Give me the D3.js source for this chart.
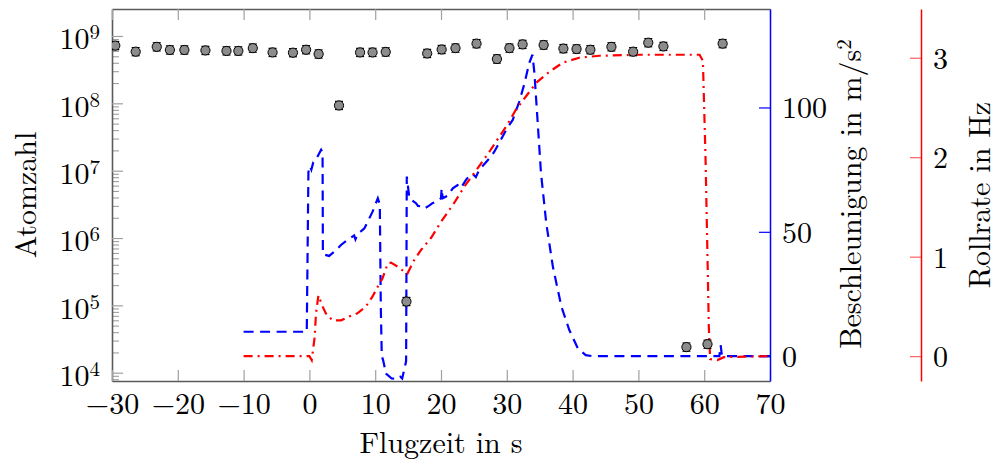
<!DOCTYPE html>
<html>
<head>
<meta charset="utf-8">
<script src="https://cdn.jsdelivr.net/npm/d3@7"></script>
<style>
  html, body { margin: 0; padding: 0; background: #fff; }
  svg { display: block; }
</style>
</head>
<body>
<svg id="chart" width="998" height="463"></svg>
<script>
// ---------------- DATA ----------------
const xTicks = [-30, -20, -10, 0, 10, 20, 30, 40, 50, 60, 70];
const atomTicks = [1e4, 1e5, 1e6, 1e7, 1e8, 1e9];
const accTicks = [0, 50, 100];
const rollTicks = [0, 1, 2, 3];

// Atom number measurements (grey markers)
const atomTime  = [-29.5, -26.4, -23.2, -21.2, -19.0, -15.8, -12.6, -10.8, -8.6, -5.6, -2.5, -0.5, 1.4,
                   4.5, 7.7, 9.6, 11.6, 14.75, 17.9, 20.1, 22.2, 25.4, 28.5, 30.4, 32.4, 35.6, 38.6,
                   40.6, 42.7, 45.9, 49.2, 51.5, 53.8, 57.3, 60.5, 62.8];
const atomCount = [7.2e8, 5.85e8, 6.9e8, 6.2e8, 6.2e8, 6.1e8, 6.0e8, 6.0e8, 6.6e8, 5.7e8, 5.65e8, 6.25e8, 5.4e8,
                   9.3e7, 5.7e8, 5.7e8, 5.8e8, 1.14e5, 5.5e8, 6.3e8, 6.6e8, 7.7e8, 4.55e8, 6.6e8, 7.5e8, 7.35e8, 6.5e8,
                   6.4e8, 6.25e8, 6.9e8, 5.85e8, 7.95e8, 7.0e8, 2.4e4, 2.65e4, 7.7e8];
const atomRelError = 0.15;

// Acceleration (blue dashed, right axis)
const accTime  = [-10, -0.4, -0.15, 0.1, 0.3, 0.6, 1.0, 1.78, 2.0, 2.05, 3.0, 4.0, 4.8, 5.8, 6.8, 7.0, 7.3,
                  8.36, 9.6, 10.4, 10.7, 10.85, 11.0, 11.2, 11.65, 12.5, 13.4, 13.8, 14.1, 14.4, 14.7, 14.8,
                  15.2, 16.2, 16.5, 17.2, 17.5, 18.2, 18.7, 19.5, 20.0, 20.1, 20.25, 21.0, 21.8, 22.5, 23.0,
                  23.8, 24.3, 24.8, 25.3, 25.8, 26.9, 27.5, 28.1, 29.1, 29.9, 30.9, 31.9, 32.7, 33.4, 33.9,
                  34.2, 34.7, 35.2, 36.0, 37.0, 38.3, 39.5, 40.8, 42.0, 43.0, 62.3, 62.5, 62.7, 70];
const accValue = [9.8, 9.8, 74, 76.5, 75, 78, 79, 83, 82, 41, 40.3, 42.5, 44.7, 46.8, 48.5, 47, 49,
                  51.4, 58.1, 63.5, 61, 20, 0, -1.6, -7, -9, -9.2, -8.3, -9.0, -5.6, -2, 72.2,
                  63.5, 61.5, 60.4, 60.1, 59.4, 60.5, 61.5, 62.5, 63.5, 67.5, 63.5, 64.5, 67.5, 68.8, 67.5,
                  70.9, 72.5, 73.3, 72, 74.9, 78.2, 80, 82.2, 87, 91, 95, 102.4, 109.8, 117.8, 121.2,
                  113.8, 93.7, 73.5, 53.4, 36, 19.9, 10.5, 3.1, 0.4, 0, 0, 4.4, 0, 0];

// Roll rate (red dash-dotted, outer right axis)
const rollTime  = [-10, 0, 0.35, 0.8, 1.0, 1.37, 2.0, 2.5, 3.5, 4.8, 6.1, 7.3, 8.6, 9.6, 10.4, 11.1, 11.9,
                   12.4, 13.4, 14.4, 14.9, 15.96, 17.0, 18.5, 20.0, 22.0, 23.6, 25.8, 27.4, 28.9, 30.1, 31.4,
                   32.9, 34.5, 36.5, 38.5, 41.0, 44.1, 50, 59.3, 59.8, 60.2, 60.5, 60.7, 60.9, 62, 63, 70];
const rollValue = [0, 0, -0.04, 0.19, 0.43, 0.61, 0.50, 0.43, 0.36, 0.36, 0.40, 0.43, 0.50, 0.60, 0.70, 0.78, 0.93,
                   0.94, 0.90, 0.85, 0.83, 0.97, 1.07, 1.19, 1.35, 1.54, 1.71, 1.91, 2.06, 2.21, 2.33, 2.48,
                   2.61, 2.75, 2.86, 2.95, 3.00, 3.02, 3.03, 3.03, 2.97, 2.0, 1.0, 0.3, -0.03, -0.04, -0.01, 0];

// ---------------- CHART ----------------
const FONT = "Latin Modern Roman, CMU Serif, Liberation Serif, serif";
const FS = 30;
const svg = d3.select("#chart").attr("font-family", FONT);
const L = 112, R = 770, T = 9, B = 381;
const RED_AXIS_X = 921;

const x  = d3.scaleLinear().domain([-30, 70]).range([L, R]);
const yL = d3.scaleLog().domain([Math.pow(10, 3.877), Math.pow(10, 9.4006)]).range([B, T]);
const yB = d3.scaleLinear().domain([-10, 139.6]).range([B, T]);
const yR = d3.scaleLinear().domain([-0.25, 3.49]).range([B, T]);

svg.append("defs").append("clipPath").attr("id", "plotclip")
  .append("rect").attr("x", L).attr("y", T).attr("width", R - L).attr("height", B - T);

const axisGrey = "#5a5a5a", tickGrey = "#a0a0a0";

function styleAxis(g, domainColor, tickColor, domainWidth) {
  g.attr("font-family", FONT).attr("font-size", FS);
  g.select(".domain").attr("stroke", domainColor).attr("stroke-width", domainWidth);
  g.selectAll(".tick line").attr("stroke", tickColor).attr("stroke-width", 1.2);
  g.selectAll(".tick text").attr("fill", "#000").attr("font-size", FS + "px").attr("font-family", FONT);
}

// minor log ticks
const minorTicks = [];
for (let e = 3; e <= 8; e++) for (let m = 2; m <= 9; m++) {
  const v = m * Math.pow(10, e);
  if (v >= yL.domain()[0] && v <= 1e9) minorTicks.push(v);
}
const gMinor = svg.append("g").attr("transform", `translate(${L},0)`)
  .call(d3.axisLeft(yL).tickValues(minorTicks).tickSizeInner(-7).tickSizeOuter(0).tickFormat(""));
gMinor.select(".domain").remove();
gMinor.selectAll(".tick line").attr("stroke", tickGrey).attr("stroke-width", 1.1);

// left log axis
const gLeft = svg.append("g").attr("transform", `translate(${L},0)`)
  .call(d3.axisLeft(yL).tickValues(atomTicks).tickSizeInner(-11).tickSizeOuter(0).tickPadding(12));
styleAxis(gLeft, axisGrey, tickGrey, 1.6);
gLeft.selectAll(".tick text").attr("dy", "0.43em").each(function (d) {
  const t = d3.select(this);
  t.text(null);
  t.append("tspan").text("10");
  t.append("tspan").attr("dy", -10).attr("font-size", "21px").text(Math.round(Math.log10(d)));
});

// bottom axis
const gBottom = svg.append("g").attr("transform", `translate(0,${B})`)
  .call(d3.axisBottom(x).tickValues(xTicks).tickSizeInner(-11).tickSizeOuter(0).tickPadding(11.2)
    .tickFormat(d3.format("d")));
styleAxis(gBottom, axisGrey, tickGrey, 1.6);

// top axis
const gTop = svg.append("g").attr("transform", `translate(0,${T})`)
  .call(d3.axisTop(x).tickValues(xTicks).tickSizeInner(-11).tickSizeOuter(0).tickFormat(""));
styleAxis(gTop, axisGrey, tickGrey, 1.6);

// right blue axis
const gBlue = svg.append("g").attr("transform", `translate(${R},0)`)
  .call(d3.axisRight(yB).tickValues(accTicks).tickSizeInner(-11).tickSizeOuter(0).tickPadding(12)
    .tickFormat(d3.format("d")));
styleAxis(gBlue, "#0000ff", "#0000ff", 1.5);
gBlue.selectAll(".tick text").attr("dy", "0.35em");

// red outer axis
const gRed = svg.append("g").attr("transform", `translate(${RED_AXIS_X},0)`)
  .call(d3.axisRight(yR).tickValues(rollTicks).tickSizeInner(-11).tickSizeOuter(0).tickPadding(12)
    .tickFormat(d3.format("d")));
styleAxis(gRed, "#ff0000", "#ff6060", 1.5);
gRed.selectAll(".tick text").attr("dy", "0.35em");

// data lines
const plot = svg.append("g").attr("clip-path", "url(#plotclip)");

const accData = accTime.map((t, i) => [t, accValue[i]]);
plot.append("path").datum(accData)
  .attr("fill", "none").attr("stroke", "#0000ff").attr("stroke-width", 2.2)
  .attr("stroke-dasharray", "10,6.5")
  .attr("d", d3.line().x(d => x(d[0])).y(d => yB(d[1])));

const rollData = rollTime.map((t, i) => [t, rollValue[i]]);
plot.append("path").datum(rollData)
  .attr("fill", "none").attr("stroke", "#ff0000").attr("stroke-width", 2.2)
  .attr("stroke-dasharray", "9,5,2,5")
  .attr("d", d3.line().x(d => x(d[0])).y(d => yR(d[1])));

// atom markers with error bars
const atomData = atomTime.map((t, i) => ({ t, v: atomCount[i] }));
const mk = plot.selectAll(".atom").data(atomData).enter().append("g").attr("class", "atom");
mk.append("line")
  .attr("x1", d => x(d.t)).attr("x2", d => x(d.t))
  .attr("y1", d => yL(d.v * (1 + atomRelError))).attr("y2", d => yL(d.v / (1 + atomRelError)))
  .attr("stroke", "#000").attr("stroke-width", 1);
mk.selectAll(".cap").data(d => [d.v * (1 + atomRelError), d.v / (1 + atomRelError)].map(v => ({ t: d.t, v })))
  .enter().append("line")
  .attr("x1", d => x(d.t) - 4).attr("x2", d => x(d.t) + 4)
  .attr("y1", d => yL(d.v)).attr("y2", d => yL(d.v))
  .attr("stroke", "#000").attr("stroke-width", 1.2);
mk.append("circle")
  .attr("cx", d => x(d.t)).attr("cy", d => yL(d.v)).attr("r", 4.6)
  .attr("fill", "#8c8c8c").attr("stroke", "#000").attr("stroke-width", 1);

// axis labels
svg.append("text").attr("x", (L + R) / 2).attr("y", 453).attr("text-anchor", "middle")
  .attr("font-family", FONT).attr("font-size", FS + "px").text("Flugzeit in s");

svg.append("text").attr("transform", "translate(36,195) rotate(-90)").attr("text-anchor", "middle")
  .attr("font-family", FONT).attr("font-size", FS + "px").text("Atomzahl");

const accLabel = svg.append("text").attr("transform", "translate(861,194) rotate(-90)")
  .attr("text-anchor", "middle").attr("font-family", FONT).attr("font-size", FS + "px");
accLabel.append("tspan").text("Beschleunigung in m/s");
accLabel.append("tspan").attr("dy", -10).attr("font-size", "21px").text("2");

svg.append("text").attr("transform", "translate(990,195) rotate(-90)").attr("text-anchor", "middle")
  .attr("font-family", FONT).attr("font-size", FS + "px").text("Rollrate in Hz");
</script>
</body>
</html>
